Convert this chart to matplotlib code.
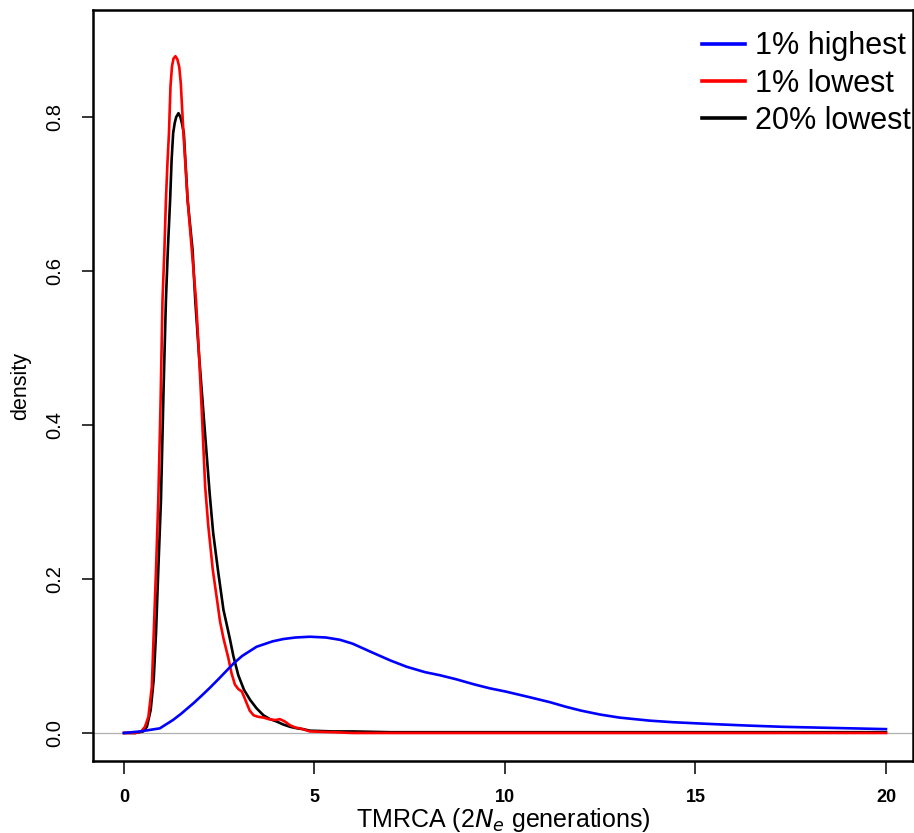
import matplotlib
matplotlib.use("Agg")
import matplotlib.pyplot as plt

# ---- data ----
blue_x = [0, 0.42, 0.94, 1.29, 1.5, 1.82, 2.05, 2.26, 2.5, 2.87, 3.1, 3.48, 3.9, 4.18, 4.5, 4.88, 5.3, 5.67,
          6.0, 6.54, 7.0, 7.42, 7.9, 8.29, 8.7, 9.2, 9.6, 10.0, 10.6, 11.18, 11.6, 12.0, 12.49, 13.0, 13.8,
          14.4, 15.03, 15.7, 16.43, 17.3, 18.18, 19.1, 20]
blue_y = [0, 0.002, 0.006, 0.017, 0.025, 0.0385, 0.049, 0.059, 0.071, 0.090, 0.100, 0.112, 0.119, 0.122, 0.124, 0.125,
          0.124, 0.121, 0.116, 0.104, 0.094, 0.086, 0.079, 0.075, 0.070, 0.063, 0.058, 0.054, 0.047, 0.040, 0.034,
          0.029, 0.024, 0.020, 0.016, 0.014, 0.0125, 0.011, 0.0095, 0.008, 0.007, 0.006, 0.005]

red_x = [0, 0.3, 0.45, 0.55, 0.64, 0.73, 0.77, 0.84, 0.90, 0.96, 1.01, 1.06, 1.10, 1.14, 1.18, 1.22, 1.26, 1.30,
         1.35, 1.40, 1.45, 1.49, 1.56, 1.67, 1.78, 1.89, 1.97, 2.04, 2.13, 2.21, 2.33, 2.45, 2.52, 2.61, 2.74, 2.82,
         2.91, 3.0, 3.09, 3.16, 3.22, 3.30, 3.40, 3.52, 3.66, 3.80, 3.92, 4.00, 4.09, 4.22, 4.36, 4.50, 4.62, 4.75,
         4.88, 5.5, 6, 7, 8, 10, 12, 15, 20]
red_y = [0, 0, 0.002, 0.008, 0.021, 0.060, 0.116, 0.212, 0.303, 0.43, 0.562, 0.627, 0.692, 0.74, 0.779, 0.84, 0.866,
         0.876, 0.879, 0.875, 0.865, 0.844, 0.779, 0.692, 0.627, 0.562, 0.49, 0.419, 0.32, 0.27, 0.212, 0.17, 0.145,
         0.123, 0.097, 0.078, 0.063, 0.057, 0.054, 0.046, 0.0385, 0.029, 0.023, 0.021, 0.020, 0.018, 0.017, 0.017,
         0.018, 0.015, 0.010, 0.007, 0.006, 0.004, 0.002, 0.001, 0.0, 0.0, 0.0, 0.0, 0.0, 0.0, 0.0]

black_x = [0, 0.3, 0.5, 0.6, 0.7, 0.78, 0.84, 0.90, 0.97, 1.04, 1.10, 1.15, 1.21, 1.25, 1.29, 1.33, 1.37, 1.43,
           1.48, 1.52, 1.57, 1.67, 1.80, 1.87, 1.97, 2.08, 2.25, 2.34, 2.47, 2.61, 2.70, 2.78, 2.87, 3.0, 3.15,
           3.31, 3.48, 3.66, 3.83, 4.0, 4.18, 4.36, 4.55, 4.7, 4.88, 5.5, 6, 7, 8, 10, 12, 15, 20]
black_y = [0, 0, 0.002, 0.008, 0.03, 0.07, 0.13, 0.212, 0.303, 0.45, 0.562, 0.627, 0.692, 0.745, 0.779, 0.792, 0.800,
           0.805, 0.800, 0.792, 0.779, 0.692, 0.627, 0.562, 0.49, 0.419, 0.31, 0.26, 0.21, 0.16, 0.14, 0.122, 0.10,
           0.075, 0.056, 0.043, 0.032, 0.023, 0.018, 0.015, 0.011, 0.008, 0.006, 0.005, 0.003, 0.002, 0.002, 0.001,
           0.001, 0.001, 0.001, 0.001, 0.001]

labels = ["1% highest", "1% lowest", "20% lowest"]
x_ticks = [0, 5, 10, 15, 20]
y_ticks = [0.0, 0.2, 0.4, 0.6, 0.8]
y_ticklabels = ["0.0", "0.2", "0.4", "0.6", "0.8"]

plt.rcParams['font.family'] = ['Liberation Sans', 'DejaVu Sans']

fig = plt.figure(figsize=(9.14, 8.33), dpi=100)
ax = fig.add_axes([93/914, 1 - 761/833, (913 - 93)/914, (761 - 10)/833])

ax.axhline(0, color='#b0b0b0', lw=0.9, zorder=1)
lb, = ax.plot(black_x, black_y, color='black', lw=1.9, zorder=3)
lr, = ax.plot(red_x, red_y, color='red', lw=1.9, zorder=4)
lbl, = ax.plot(blue_x, blue_y, color='blue', lw=1.9, zorder=5)

ax.set_xlim(-0.814, 20.71)
ax.set_ylim(-0.0364, 0.939)

ax.set_xticks(x_ticks)
ax.set_xticklabels([str(t) for t in x_ticks], fontweight='bold', fontsize=13)
ax.set_yticks(y_ticks)
ax.set_yticklabels(y_ticklabels, rotation=90, va='center', fontsize=14.5)
ax.tick_params(axis='x', direction='out', length=9, width=1.1, pad=11)
ax.tick_params(axis='y', direction='out', length=8, width=1.1, pad=13)
for s in ax.spines.values():
    s.set_linewidth(1.8)

ax.set_xlabel(r"TMRCA (2$N_e$ generations)", fontsize=18, va='baseline')
ax.xaxis.set_label_coords(0.5, (761 - 827) / 751)
ax.set_ylabel("density", fontsize=15.5, va='center')
ax.yaxis.set_label_coords((21 - 93) / 820, 0.5)

leg = ax.legend([lbl, lr, lb], labels, loc='upper left', bbox_to_anchor=(690/914, 1 - 19/833),
                bbox_transform=fig.transFigure, frameon=False, fontsize=22,
                handlelength=1.4, handletextpad=0.33, labelspacing=0.24, borderpad=0.4,
                borderaxespad=0)
for h in leg.get_lines():
    h.set_linewidth(2.6)

fig.savefig("out.png", dpi=100)
